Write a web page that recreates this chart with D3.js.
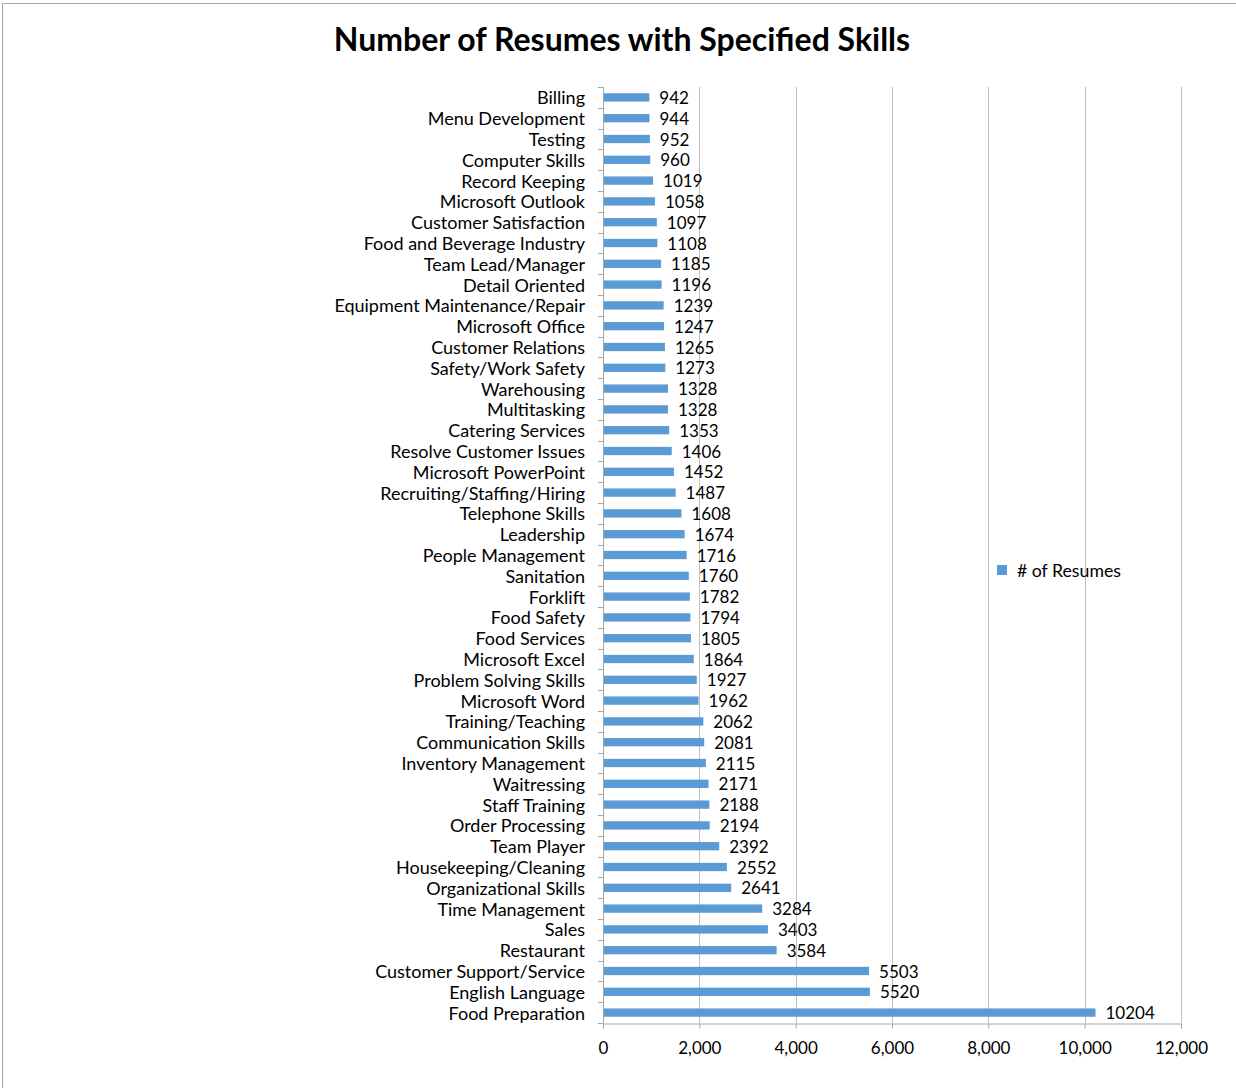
<!DOCTYPE html>
<html><head><meta charset="utf-8">
<script src="https://cdn.jsdelivr.net/npm/d3@7"></script>
<style>body{margin:0;background:#fff;}svg{display:block;}</style>
</head><body>
<svg id="chart" width="1236" height="1088"></svg>
<script>
const categories = ["Billing","Menu Development","Testing","Computer Skills","Record Keeping","Microsoft Outlook","Customer Satisfaction","Food and Beverage Industry","Team Lead/Manager","Detail Oriented","Equipment Maintenance/Repair","Microsoft Office","Customer Relations","Safety/Work Safety","Warehousing","Multitasking","Catering Services","Resolve Customer Issues","Microsoft PowerPoint","Recruiting/Staffing/Hiring","Telephone Skills","Leadership","People Management","Sanitation","Forklift","Food Safety","Food Services","Microsoft Excel","Problem Solving Skills","Microsoft Word","Training/Teaching","Communication Skills","Inventory Management","Waitressing","Staff Training","Order Processing","Team Player","Housekeeping/Cleaning","Organizational Skills","Time Management","Sales","Restaurant","Customer Support/Service","English Language","Food Preparation"];
const values = [942,944,952,960,1019,1058,1097,1108,1185,1196,1239,1247,1265,1273,1328,1328,1353,1406,1452,1487,1608,1674,1716,1760,1782,1794,1805,1864,1927,1962,2062,2081,2115,2171,2188,2194,2392,2552,2641,3284,3403,3584,5503,5520,10204];
const xTicks = [0,2000,4000,6000,8000,10000,12000];
const seriesName = "# of Resumes";
const title = "Number of Resumes with Specified Skills";

(function(){
const font = "Lato, 'Open Sans', sans-serif";
const svg = d3.select("#chart");
const pL = 603, pR = 1181, pT = 87, pB = 1023;

// frame
svg.append("rect").attr("x",2.5).attr("y",3.5).attr("width",1300).attr("height",1200)
  .attr("fill","none").attr("stroke","#a6a6a6").attr("stroke-width",1);

const x = d3.scaleLinear().domain([0,12000]).range([pL,pR]);
const y = d3.scaleBand().domain(categories).range([pT,pB]).paddingInner(0.6).paddingOuter(0.3);

// gridlines
svg.append("g").selectAll("line").data(xTicks.slice(1)).join("line")
  .attr("x1",d=>Math.round(x(d))+0.5).attr("x2",d=>Math.round(x(d))+0.5)
  .attr("y1",pT).attr("y2",pB).attr("stroke","#bfbfbf").attr("stroke-width",1);

// bars
svg.append("g").selectAll("rect").data(values).join("rect")
  .attr("x",x(0)+1).attr("y",(d,i)=>y(categories[i]))
  .attr("width",d=>x(d)-x(0)).attr("height",y.bandwidth())
  .attr("fill","#5b9bd5");

// value labels
svg.append("g").selectAll("text").data(values).join("text")
  .attr("x",d=>x(d)+11).attr("y",(d,i)=>y(categories[i])+y.bandwidth()/2+0.5)
  .attr("dy","0.36em").attr("font-family",font).attr("font-size",17).attr("fill","#000")
  .text(d=>d);

// x axis
const xAxis = d3.axisBottom(x).tickValues(xTicks).tickSize(5).tickPadding(13)
  .tickFormat(d=>d===0?"0":d3.format(",")(d));
const gx = svg.append("g").attr("transform",`translate(0,${pB+0.5})`).call(xAxis);
gx.select(".domain").attr("stroke","#a6a6a6");
gx.selectAll(".tick line").attr("stroke","#a6a6a6");
gx.selectAll("text").attr("font-family",font).attr("font-size",17).attr("fill","#000");

// y axis
const boundaries = d3.range(categories.length+1).map(i=>pT + i*(pB-pT)/categories.length);
svg.append("line").attr("x1",pL+0.5).attr("x2",pL+0.5).attr("y1",pT).attr("y2",pB)
  .attr("stroke","#a6a6a6");
svg.append("g").selectAll("line").data(boundaries).join("line")
  .attr("x1",pL-5).attr("x2",pL).attr("y1",d=>Math.round(d)+0.5).attr("y2",d=>Math.round(d)+0.5)
  .attr("stroke","#a6a6a6");
svg.append("g").selectAll("text").data(categories).join("text")
  .attr("x",585).attr("y",d=>y(d)+y.bandwidth()/2+0.5).attr("dy","0.36em")
  .attr("text-anchor","end").attr("font-family",font).attr("font-size",18).attr("fill","#000")
  .text(d=>d);

// title
svg.append("text").attr("x",622).attr("y",51).attr("text-anchor","middle")
  .attr("font-family",font).attr("font-weight","bold").attr("font-size",32).attr("fill","#000")
  .text(title);

// legend
svg.append("rect").attr("x",997).attr("y",565).attr("width",10).attr("height",10).attr("fill","#5b9bd5");
svg.append("text").attr("x",1017).attr("y",570.5).attr("dy","0.36em")
  .attr("font-family",font).attr("font-size",17.7).attr("fill","#000").text(seriesName);
})();
</script>
</body></html>
